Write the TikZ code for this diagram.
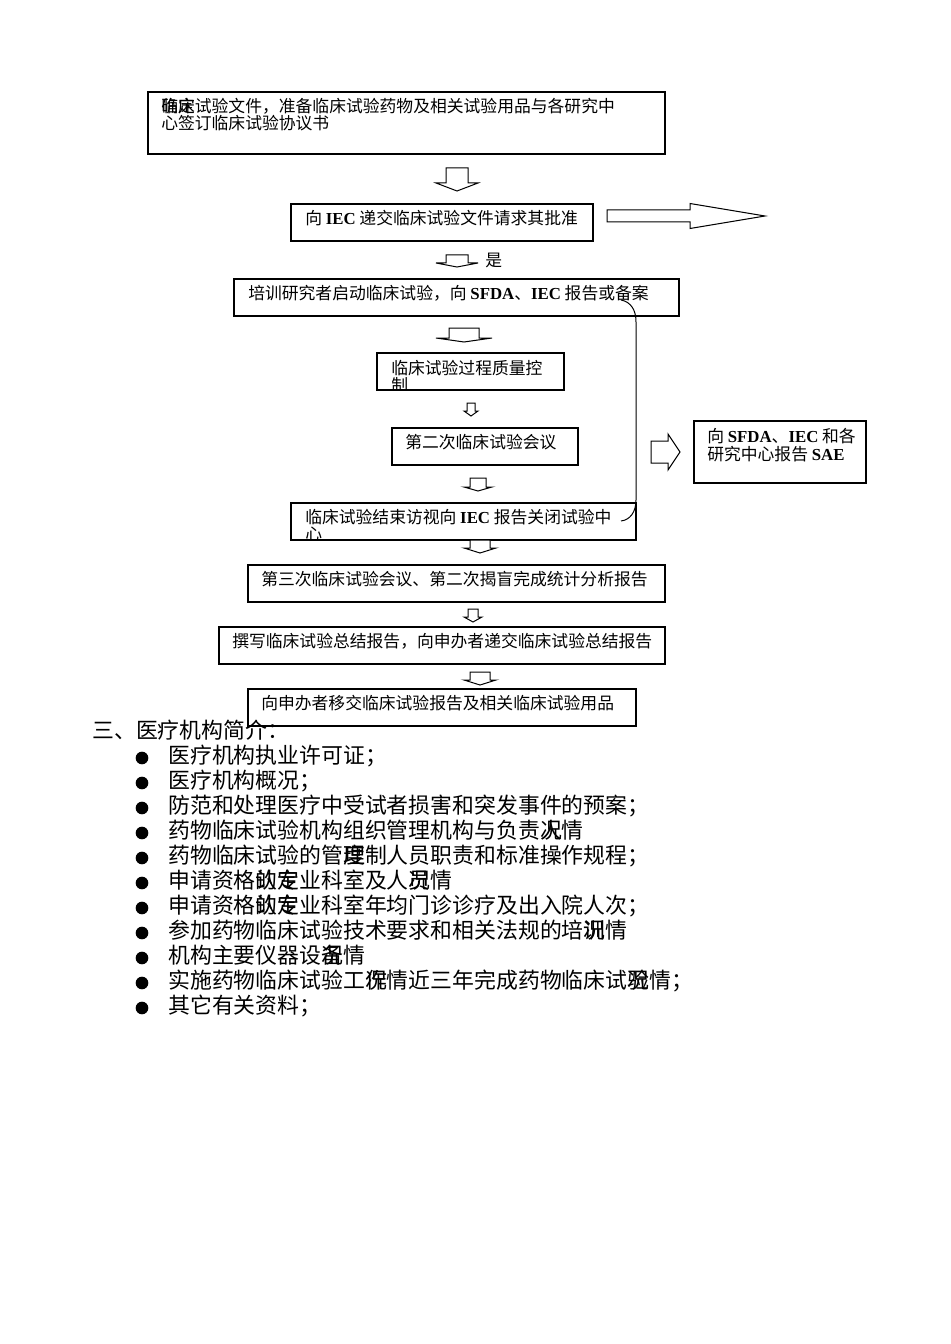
\documentclass[tikz,border=0pt]{standalone}
\usepackage{fontspec}
\setmainfont{Noto Sans CJK SC}
\newfontfamily\latf{Liberation Serif}
\newcommand\lat[1]{{\latf\bfseries #1}}
\newcommand\ov[2]{\rlap{#1}#2}
\newcommand\bx[5]{\node[box, minimum width={(#4-#2)*0.75pt}, minimum height={(#5-#3)*0.75pt}] (#1) at ({(#2+#4)/2},{(#3+#5)/2}) {};}
% down block arrow: cx, top, shaft half width, head half width, head base, tip
\newcommand\dnarrow[6]{\draw[blk] (#1-#3,#2) -- (#1+#3,#2) -- (#1+#3,#5) -- (#1+#4,#5) -- (#1,#6) -- (#1-#4,#5) -- (#1-#3,#5) -- cycle;}
% right block arrow: x0, cy, shaft half width, head x, head half width, tip x
\newcommand\rtarrow[6]{\draw[blk] (#1,#2-#3) -- (#4,#2-#3) -- (#4,#2-#5) -- (#6,#2) -- (#4,#2+#5) -- (#4,#2+#3) -- (#1,#2+#3) -- cycle;}
\begin{document}
\begin{tikzpicture}[x=0.75pt,y=-0.75pt,
  box/.style={draw, line width=0.9pt, inner sep=0pt},
  blk/.style={draw, line width=0.75pt, fill=white, line join=miter},
  txt/.style={anchor=west, inner sep=0pt, font=\fontsize{12.6}{12.75}\selectfont, text height=0.88em, text depth=0.12em},
  lst/.style={anchor=west, inner sep=0pt, font=\fontsize{16.4}{20}\selectfont, text height=0.88em, text depth=0.12em},
  bul/.style={circle, fill=black, inner sep=0pt, minimum size=9.5pt}]
\useasboundingbox (0,0) rectangle (950,1344);
% boxes
\bx{b1}{148}{92}{665}{154}
\bx{b2}{291}{204}{593}{241}
\bx{b3}{234}{279}{679}{316}
\bx{b4}{377}{353}{564}{390}
\bx{b5}{392}{428}{578}{465}
\bx{b6}{291}{503}{636}{540}
\bx{b7}{248}{565}{665}{602}
\bx{b8}{219}{627}{665}{664}
\bx{b9}{248}{689}{636}{726}
\bx{sae}{694}{421}{866}{483}
% texts
\node[txt] (t1a) at (161,107) {\ov{确}{临}\ov{定}{床}试验文件，准备临床试验药物及相关试验用品与各研究中};
\node[txt] (t1b) at (161,124) {心签订临床试验协议书};
\node[txt] (t2) at (305,219) {向 \lat{IEC} 递交临床试验文件请求其批准};
\node[txt] (t3) at (248,294) {培训研究者启动临床试验，向 \lat{SFDA}、\lat{IEC} 报告或备案};
\node[txt] (t4) at (391,369) {临床试验过程质量控};
\begin{scope}
\clip (377,353) rectangle (564,389.5);
\node[txt] (t4b) at (391,386) {制};
\end{scope}
\node[txt] (t5) at (405,443) {第二次临床试验会议};
\node[txt] (t6) at (305,518) {临床试验结束访视向 \lat{IEC} 报告关闭试验中};
\begin{scope}
\clip (291,503) rectangle (636,539.5);
\node[txt] (t6b) at (305,535) {心};
\end{scope}
\node[txt] (t7) at (261,580) {第三次临床试验会议、第二次揭盲完成统计分析报告};
\node[txt] (t8) at (232,642) {撰写临床试验总结报告，向申办者递交临床试验总结报告};
\node[txt] (t9) at (261,704) {向申办者移交临床试验报告及相关临床试验用品};
\node[txt] (ts1) at (707,437) {向 \lat{SFDA}、\lat{IEC} 和各};
\node[txt] (ts2) at (707,455) {研究中心报告 \lat{SAE}};
\node[txt] (yes) at (485,261) {是};
% block arrows
\dnarrow{457}{168}{11}{21}{183}{191}
\dnarrow{457}{255}{11}{21}{263}{267}
\dnarrow{464}{328}{15}{28}{338}{342}
\dnarrow{471}{403}{4}{7}{411}{416}
\dnarrow{478}{478}{8}{14}{487}{491}
\dnarrow{480}{540}{10}{16}{548}{553}
\dnarrow{473}{609}{5}{9}{617}{622}
\dnarrow{480}{672}{10}{16}{680}{685}
\rtarrow{607}{216}{6}{690}{12.5}{765}
\rtarrow{651}{452}{11}{668}{18}{680}
% bracket line
\coordinate (cA) at (621,300);
\coordinate (cB) at (636,322);
\coordinate (cC) at (636,500);
\coordinate (cD) at (621,521);
\draw[line width=0.75pt] (cA) .. controls (631,302) and (636,310) .. (cB) -- (cC) .. controls (636,512) and (630,520) .. (cD);
% list
\node[lst] (h) at (92,733) {三、医疗机构简介：};
\foreach \i/\t in {0/{医疗机构执业许可证；},
  1/{医疗机构概况；},
  2/{防范和处理医疗中受试者损害和突发事件的预案；},
  3/{药物临床试验机构组织管理机构与负责\ov{人}{况}情},
  4/{药物临床试验的管\ov{理}{度}制人员职责和标准操作规程；},
  5/{申请资格\ov{的}{认}\ov{定}{专}业科室及人\ov{员}{况}情},
  6/{申请资格\ov{的}{认}\ov{定}{专}业科室年均门诊诊疗及出入院人次；},
  7/{参加药物临床试验技术要求和相关法规的培\ov{训}{况}情},
  8/{机构主要仪器设\ov{备}{况}情},
  9/{实施药物临床试验工\ov{作}{况}情近三年完成药物临床试\ov{验}{况}情；},
  10/{其它有关资料；}} {
  \node[bul] (bu\i) at (142,{758+25*\i}) {};
  \node[lst] (li\i) at (168,{758+25*\i}) {\t};
}
\end{tikzpicture}
\end{document}
